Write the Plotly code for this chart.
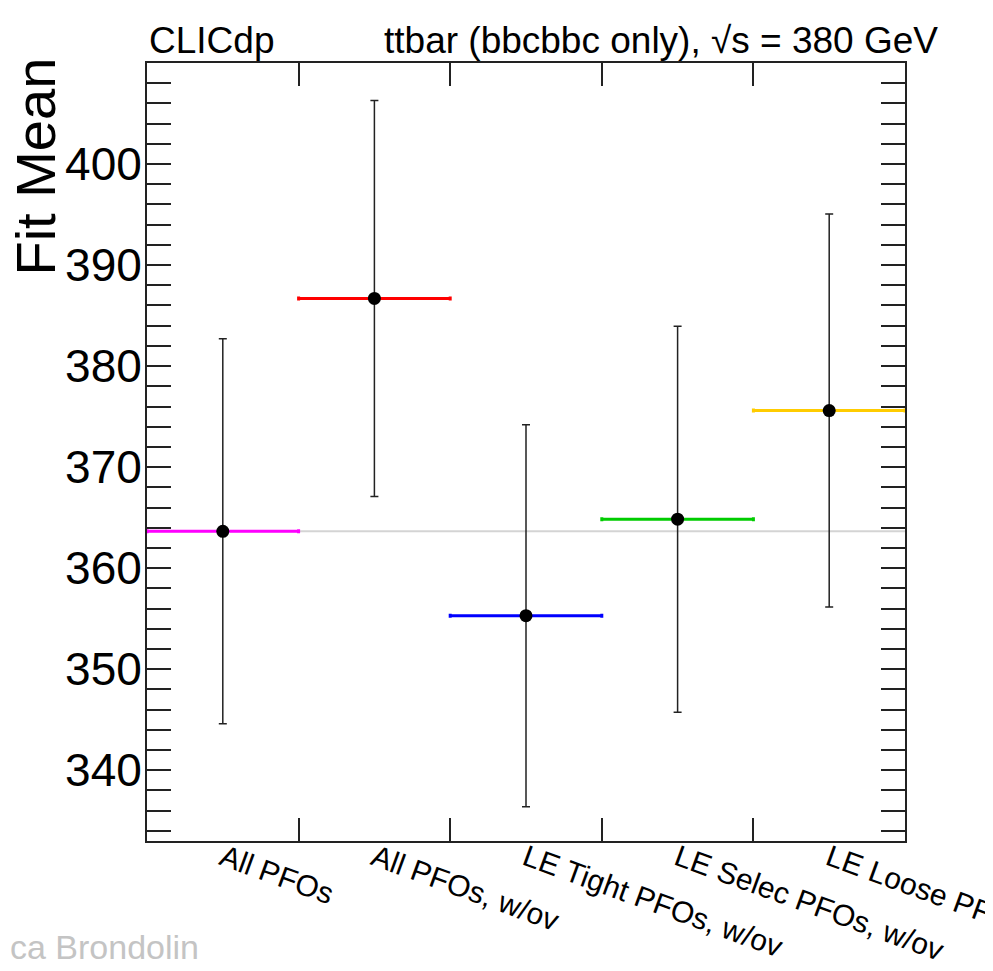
import plotly.graph_objects as go

categories = ["All PFOs", "All PFOs, w/ov", "LE Tight PFOs, w/ov",
              "LE Selec PFOs, w/ov", "LE Loose PFOs, w/ov"]
fit_mean = [363.65, 386.7, 355.3, 364.85, 375.6]
fit_err = [19.05, 19.6, 18.9, 19.1, 19.45]
colors = ["#ff00ff", "#ff0000", "#0000ff", "#00cc00", "#ffcc00"]
y_ticks = [340, 350, 360, 370, 380, 390, 400]

n = len(categories)
centers = [i + 0.5 for i in range(n)]
edges = list(range(n + 1))

FONT = "Liberation Sans, Arial, sans-serif"

fig = go.Figure()

# reference line at the first point's value
fig.add_trace(go.Scatter(
    x=[edges[0], edges[-1]], y=[fit_mean[0], fit_mean[0]],
    mode="lines", line=dict(color="#d4d4d4", width=2),
    showlegend=False, hoverinfo="skip"))

for i in range(n):
    fig.add_trace(go.Scatter(
        x=[centers[i]], y=[fit_mean[i]], mode="markers",
        marker=dict(color="black", size=13, symbol="circle"),
        error_x=dict(type="constant", value=0.5, color=colors[i],
                     thickness=3, width=2),
        error_y=dict(type="constant", value=fit_err[i], color="#222222",
                     thickness=1.5, width=4),
        showlegend=False, name=categories[i]))

# invisible trace to activate xaxis2 (labels)
fig.add_trace(go.Scatter(x=centers, y=fit_mean, xaxis="x2", mode="markers",
                         marker=dict(opacity=0), showlegend=False,
                         hoverinfo="skip"))

fig.update_layout(
    width=993, height=971,
    margin=dict(l=139, r=96, t=55, b=138, autoexpand=False),
    paper_bgcolor="white", plot_bgcolor="white",
    font=dict(family=FONT, color="black"),
    xaxis=dict(range=[edges[0], edges[-1]], tickvals=edges,
               showticklabels=False, ticks="inside", ticklen=23,
               tickwidth=2, tickcolor="#222", showline=True, linewidth=2,
               linecolor="#222", mirror="allticks", showgrid=False,
               zeroline=False, automargin=False),
    xaxis2=dict(overlaying="x", side="bottom", anchor="y",
                range=[edges[0], edges[-1]], tickvals=centers,
                ticktext=categories, tickangle=20, ticks="",
                ticklabeloverflow="allow", automargin=False,
                ticklabelstandoff=-7,
                tickfont=dict(size=30, family=FONT, color="black"),
                showgrid=False, zeroline=False, showline=False),
    yaxis=dict(range=[333, 410], tickvals=y_ticks, ticks="inside",
               ticklen=24, tickwidth=2, tickcolor="#222", showline=True,
               linewidth=2, linecolor="#222", mirror="allticks",
               showgrid=False, zeroline=False, automargin=False,
               ticklabelstandoff=-6,
               minor=dict(dtick=2, tick0=0, ticks="inside", ticklen=12,
                          tickwidth=2, tickcolor="#222", showgrid=False),
               tickfont=dict(size=46, family=FONT, color="black")),
    annotations=[
        dict(text="Fit Mean", textangle=-90, xref="paper", yref="paper",
             x=-0.147, y=1.009, xanchor="center", yanchor="top",
             showarrow=False,
             font=dict(size=56, family=FONT, color="black")),
        dict(text="CLICdp", xref="paper", yref="paper", x=0, y=1,
             xanchor="left", yanchor="bottom", showarrow=False,
             font=dict(size=37, family=FONT, color="black")),
        dict(text="ttbar (bbcbbc only), √s = 380 GeV", xref="paper",
             yref="paper", x=1.046, y=1, xanchor="right", yanchor="bottom",
             showarrow=False, font=dict(size=37, family=FONT, color="black")),
        dict(text="ca Brondolin", xref="paper", yref="paper", x=-0.1834,
             y=-0.163, xanchor="left", yanchor="bottom", showarrow=False,
             font=dict(size=34, family=FONT, color="#c4c4c4")),
    ],
)

fig.write_html("out.html")
